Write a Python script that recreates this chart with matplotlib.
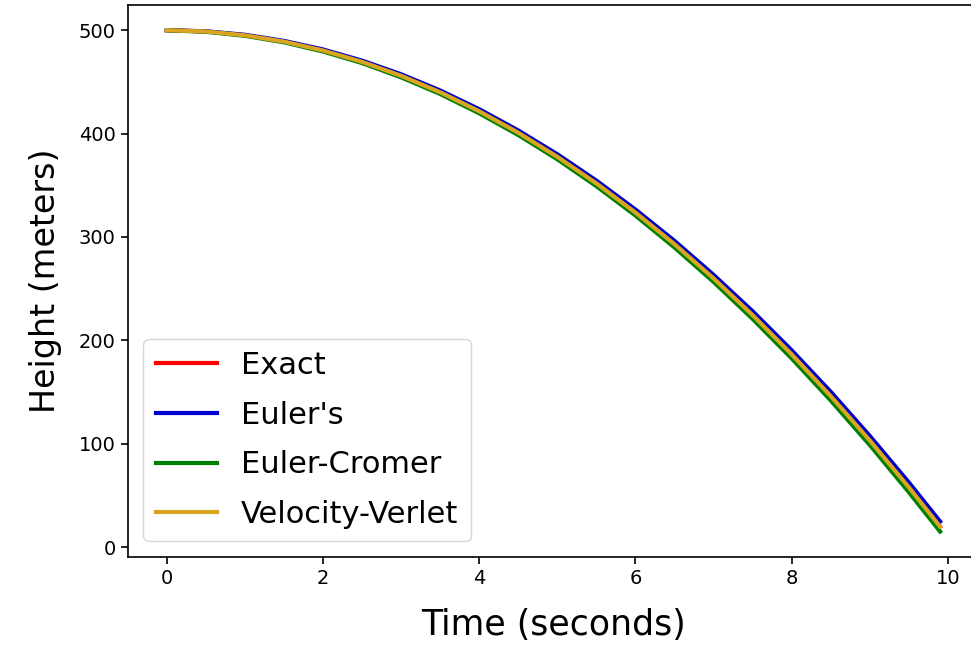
import matplotlib.pyplot as plt

# time samples (s) and heights (m)
t = [0, 0.5, 1, 1.5, 2, 2.5, 3, 3.5, 4, 4.5, 5, 5.5, 6, 6.5, 7, 7.5, 8, 8.5, 9, 9.5, 9.9]
exact = [500, 498.8, 495.1, 489.0, 480.4, 469.4, 455.9, 440.0, 421.6, 400.8, 377.5,
         351.8, 323.6, 293.0, 259.9, 224.4, 186.4, 146.0, 103.1, 57.8, 19.8]
euler = [500, 499.0, 495.6, 489.7, 481.4, 470.6, 457.4, 441.7, 423.6, 403.0, 380.0,
         354.5, 326.5, 296.2, 263.3, 228.1, 190.3, 150.2, 107.5, 62.5, 24.7]
cromer = [500, 498.5, 494.6, 488.3, 479.4, 468.2, 454.4, 438.3, 419.6, 398.6, 375.1,
          349.1, 320.7, 289.8, 256.5, 220.7, 182.5, 141.8, 98.7, 53.1, 15.0]
verlet = [500, 498.8, 495.1, 489.0, 480.4, 469.4, 455.9, 440.0, 421.6, 400.8, 377.5,
          351.8, 323.6, 293.0, 259.9, 224.4, 186.4, 146.0, 103.1, 57.8, 19.8]

fig = plt.figure(figsize=(9.71, 6.45), dpi=100)
ax = fig.add_axes([0.132, 0.137, 0.876, 0.855])

ax.plot(t, exact, color="red", lw=3, label="Exact")
ax.plot(t, euler, color="mediumblue", lw=3, label="Euler's")
ax.plot(t, cromer, color="green", lw=3, label="Euler-Cromer")
ax.plot(t, verlet, color="goldenrod", lw=3, label="Velocity-Verlet")

ax.set_xlabel("Time (seconds)", fontsize=25, labelpad=14)
ax.set_ylabel("Height (meters)", fontsize=24, labelpad=12)
ax.tick_params(labelsize=14, length=5, width=1.2, pad=4)
for s in ax.spines.values():
    s.set_linewidth(1.2)
ax.legend(loc="lower left", fontsize=22, handlelength=2.0, labelspacing=0.68,
          borderaxespad=0.5)

fig.savefig("out.png", dpi=100)
